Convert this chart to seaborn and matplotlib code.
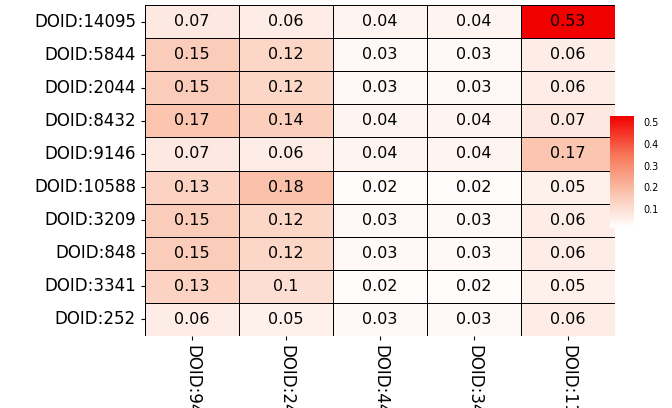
import matplotlib
matplotlib.use("Agg")
import matplotlib.pyplot as plt
import seaborn as sns
import pandas as pd
import numpy as np
from matplotlib.colors import LinearSegmentedColormap

rows = ["DOID:14095","DOID:5844","DOID:2044","DOID:8432","DOID:9146",
        "DOID:10588","DOID:3209","DOID:848","DOID:3341","DOID:252"]
cols = ["DOID:9409","DOID:2426","DOID:4481","DOID:3459","DOID:1176"]
c1 = [0.07,0.15,0.15,0.17,0.07,0.13,0.15,0.15,0.13,0.06]
c2 = [0.06,0.12,0.12,0.14,0.06,0.18,0.12,0.12,0.10,0.05]
c3 = [0.04,0.03,0.03,0.04,0.04,0.02,0.03,0.03,0.02,0.03]
c4 = [0.04,0.03,0.03,0.04,0.04,0.02,0.03,0.03,0.02,0.03]
c5 = [0.53,0.06,0.06,0.07,0.17,0.05,0.06,0.06,0.05,0.06]

df = pd.DataFrame(np.array([c1,c2,c3,c4,c5]).T, index=rows, columns=cols)
annot = df.map(lambda v: f"{v:g}")

cmap = LinearSegmentedColormap.from_list(
    "wr", [(0, "#FFFFFF"), (0.3, "#FBC6B0"), (0.65, "#F7775A"), (1, "#F20000")])
fig = plt.figure(figsize=(6.72, 4.08), dpi=100)
ax = fig.add_axes([145/672, 1-336/408, 470/672, 331/408])
cax = fig.add_axes([610/672, 1-228/408, 24/672, 112/408])
sns.heatmap(df, ax=ax, cbar_ax=cax, cmap=cmap, vmin=0.01, vmax=0.53,
            annot=annot, fmt="", annot_kws={"size": 11.5, "color": "black"},
            linewidths=0.5, linecolor="black")
ax.tick_params(axis="y", labelsize=12, length=3, rotation=0)
ax.tick_params(axis="x", labelsize=12, length=3, labelrotation=270)
for t in ax.get_xticklabels():
    t.set_va("top")
    t.set_ha("center")
cax.tick_params(labelsize=7, length=3, color="white", width=0.8)
cax.set_yticks([0.1,0.2,0.3,0.4,0.5])
cax.yaxis.set_ticklabels(["0.1","0.2","0.3","0.4","0.5"])
for s in cax.spines.values():
    s.set_visible(False)
fig.savefig("out.png", dpi=100)
